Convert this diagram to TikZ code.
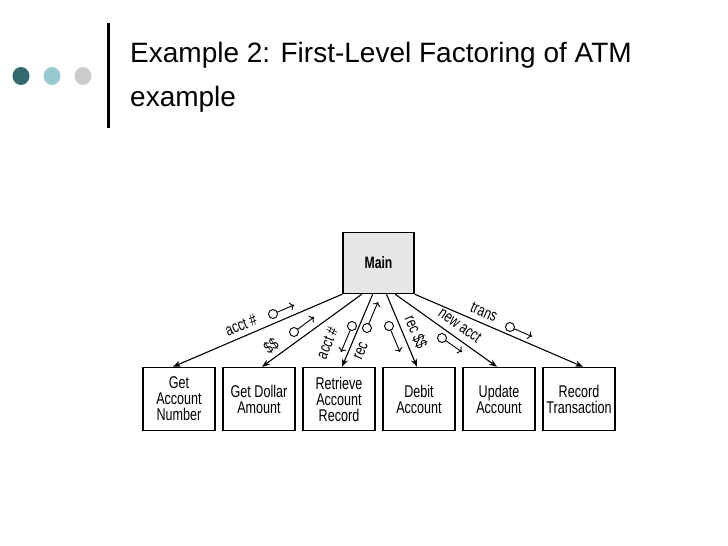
\documentclass[tikz,border=0pt]{standalone}
\usepackage{fontspec}
\setmainfont{Liberation Sans}
\newfontfamily\diagfont[FakeStretch=0.74]{Liberation Sans}
\usetikzlibrary{arrows.meta,calc,positioning}
\definecolor{tealdark}{HTML}{336B6E}
\definecolor{teallight}{HTML}{96CACD}
\definecolor{dotgray}{HTML}{CCCCCC}
\definecolor{mainfill}{HTML}{E6E6E6}

\begin{document}
\begin{tikzpicture}[x=1pt, y=-1pt, >=Stealth,
  module/.style={draw, line width=1.4pt, align=center, inner sep=1pt,
    minimum width=72pt, minimum height=63pt,
    font=\diagfont\fontsize{17}{16}\selectfont},
  couple/.style={line width=0.9pt},
  tag/.style={inner sep=0pt, font=\diagfont\fontsize{16.5}{16}\selectfont}]

  \useasboundingbox (0,0) rectangle (728,546);

  % ---- slide header ----
  \fill[tealdark] (21,76) ellipse (8.5pt and 9pt);
  \fill[teallight] (52,76) ellipse (8.5pt and 9pt);
  \fill[dotgray] (83,76) ellipse (8.5pt and 9pt);
  \draw[line width=3pt] (108,23) -- (108,128);
  \node[anchor=base west, inner sep=0pt, font=\fontsize{28}{32}\selectfont]
    (title) at (130,62) {Example 2: First-Level Factoring of ATM};
  \node[anchor=base west, inner sep=0pt, font=\fontsize{28}{32}\selectfont]
    (title2) at (130,106) {example};

  % ---- top module ----
  \node[module, fill=mainfill, minimum width=71pt, minimum height=61pt,
    font=\diagfont\bfseries\fontsize{16.5}{16}\selectfont] (main) at (378.5,263) {Main};

  % ---- first-level modules ----
  \node[module] (getacct) at (179,399) {Get\\Account\\Number};
  \node[module, right=6.6pt of getacct] (getdollar) {Get Dollar\\Amount};
  \node[module, right=6.6pt of getdollar] (retrieve) {Retrieve\\Account\\Record};
  \node[module, right=6.6pt of retrieve] (debit) {Debit\\Account};
  \node[module, right=6.6pt of debit] (update) {Update\\Account};
  \node[module, right=6.6pt of update] (record) {Record\\Transaction};

  % ---- calls from Main ----
  \draw[->, line width=1.1pt] (main.south west) -- ([xshift=-6pt]getacct.north);
  \draw[->, line width=1.1pt] ($(main.south west)!0.27!(main.south east)$) -- ([xshift=3pt]getdollar.north);
  \draw[->, line width=1.1pt] ($(main.south west)!0.42!(main.south east)$) -- ([xshift=3pt]retrieve.north);
  \draw[->, line width=1.1pt] ($(main.south west)!0.61!(main.south east)$) -- ([xshift=-2pt]debit.north);
  \draw[->, line width=1.1pt] ($(main.south west)!0.73!(main.south east)$) -- ([xshift=-2pt]update.north);
  \draw[->, line width=1.1pt] (main.south east) -- ([xshift=4pt]record.north);

  % ---- data couples ----
  \draw[couple] (273,314) circle (4.5pt);
  \draw[couple, -{To[length=4pt]}] ($(273,314)!4.5pt!(294,305)$) -- (294,305);
  \node[tag, rotate=23] (l-acct) at (241,325) {acct \#};

  \draw[couple] (294,332) circle (4.5pt);
  \draw[couple, -{To[length=4pt]}] ($(294,332)!4.5pt!(314,317)$) -- (314,317);
  \node[tag, rotate=36] (l-dollar) at (271,346) {\$\$};

  \draw[couple] (352,326) circle (4.5pt);
  \draw[couple, -{To[length=4pt]}] ($(352,326)!4.5pt!(341,352)$) -- (341,352);
  \node[tag, rotate=67] (l-acct2) at (327,343) {acct \#};

  \draw[couple] (367,328) circle (4.5pt);
  \draw[couple, -{To[length=4pt]}] ($(367,328)!4.5pt!(378,302)$) -- (378,302);
  \node[tag, rotate=67] (l-rec) at (361,351) {rec};

  \draw[couple] (389,326) circle (4.5pt);
  \draw[couple, -{To[length=4pt]}] ($(389,326)!4.5pt!(400,352)$) -- (400,352);
  \node[tag, rotate=-67] (l-recdollar) at (416,332) {rec \$\$};

  \draw[couple] (442,338) circle (4.5pt);
  \draw[couple, -{To[length=4pt]}] ($(442,338)!4.5pt!(462,352)$) -- (462,352);
  \node[tag, rotate=-35.6] (l-newacct) at (460,325) {new acct};

  \draw[couple] (510,327) circle (4.5pt);
  \draw[couple, -{To[length=4pt]}] ($(510,327)!4.5pt!(532,336.5)$) -- (532,336.5);
  \node[tag, rotate=-23.4] (l-trans) at (484,312) {trans};

\end{tikzpicture}
\end{document}
